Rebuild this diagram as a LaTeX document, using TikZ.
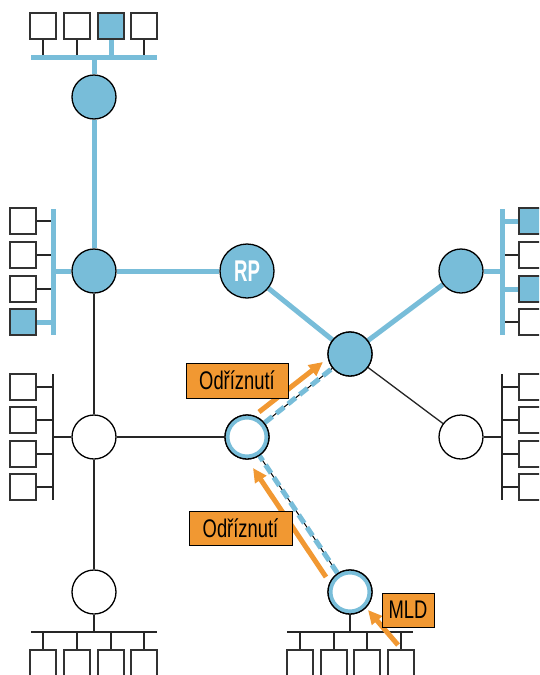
\documentclass[tikz,border=0pt]{standalone}
\usepackage{fontspec}
\newfontfamily\condfont[FakeStretch=0.72]{Liberation Sans}
\newfontfamily\rpfont[FakeStretch=0.62]{Liberation Sans}
\usetikzlibrary{arrows.meta,backgrounds}
\definecolor{nblue}{RGB}{120,189,217}
\definecolor{norange}{RGB}{241,152,50}
\definecolor{boxgray}{RGB}{50,50,50}
\begin{document}
\begin{tikzpicture}[x=1pt,y=-1pt,
 router/.style={circle,draw=black,line width=1.3pt,fill=nblue,minimum size=44pt,inner sep=0pt},
 wrouter/.style={router,fill=white},
 ringrouter/.style={wrouter,path picture={\draw[nblue,line width=4pt] (path picture bounding box.center) circle (19.5pt);}},
 host/.style={rectangle,draw=boxgray,line width=1.5pt,minimum size=26pt,inner sep=0pt,fill=white},
 fhost/.style={host,fill=nblue},
 blink/.style={nblue,line width=5pt},
 tlink/.style={black!85,line width=1.3pt},
 dlink/.style={nblue,line width=5pt,dash pattern=on 10pt off 5pt},
 oarrow/.style={norange,line width=5pt,-{Triangle[length=14pt,width=13pt]}},
 lbl/.style={draw=black,line width=1pt,fill=norange,inner sep=0pt,minimum height=35pt,font=\condfont\fontsize{25.5}{25.5}\selectfont}]
\useasboundingbox (0,0) rectangle (539,675);
\clip (0,0) rectangle (539,675);

% routers
\node[router] (rA) at (94,97) {};
\node[router] (rB) at (94,271) {};
\node[router,minimum size=54pt,text=white,font=\rpfont\bfseries\fontsize{30}{30}\selectfont] (RP) at (247,271) {RP};
\node[router] (rC) at (461,271) {};
\node[router] (rD) at (350,354) {};
\node[wrouter] (rE) at (94,437) {};
\node[ringrouter] (rF) at (247,437) {};
\node[wrouter] (rG) at (461,437) {};
\node[wrouter] (rH) at (94,592) {};
\node[ringrouter] (rI) at (350,592) {};

% hosts top
\node[host] (t1) at (43,26) {};
\node[host] (t2) at (77,26) {};
\node[fhost] (t3) at (111,26) {};
\node[host] (t4) at (144,26) {};
\coordinate (tbL) at (31,57); \coordinate (tbR) at (157,57);
% hosts left upper
\node[host] (l1) at (23,221) {};
\node[host] (l2) at (23,255) {};
\node[host] (l3) at (23,289) {};
\node[fhost] (l4) at (23,322) {};
\coordinate (lbT) at (53,209); \coordinate (lbB) at (53,335);
% hosts right upper
\node[fhost] (r1) at (532,221) {};
\node[host] (r2) at (532,255) {};
\node[fhost] (r3) at (532,289) {};
\node[host] (r4) at (532,322) {};
\coordinate (rbT) at (502,209); \coordinate (rbB) at (502,335);
% hosts left lower
\node[host] (m1) at (23,387) {};
\node[host] (m2) at (23,420) {};
\node[host] (m3) at (23,454) {};
\node[host] (m4) at (23,487) {};
\coordinate (mbT) at (53,374); \coordinate (mbB) at (53,500);
% hosts right lower
\node[host] (n1) at (532,387) {};
\node[host] (n2) at (532,420) {};
\node[host] (n3) at (532,454) {};
\node[host] (n4) at (532,487) {};
\coordinate (nbT) at (502,374); \coordinate (nbB) at (502,500);
% hosts bottom left
\node[host] (b1) at (43,663) {};
\node[host] (b2) at (77,663) {};
\node[host] (b3) at (111,663) {};
\node[host] (b4) at (144,663) {};
\coordinate (bbL) at (31,632); \coordinate (bbR) at (157,632);
% hosts bottom right
\node[host] (c1) at (300,663) {};
\node[host] (c2) at (334,663) {};
\node[host] (c3) at (367,663) {};
\node[host] (c4) at (401,663) {};
\coordinate (cbL) at (287,632); \coordinate (cbR) at (413,632);

\begin{scope}[on background layer]
 % top group
 \foreach \h in {t1,t2,t4} \draw[tlink] (\h.south) -- (\h.south |- tbL);
 \draw[blink] (t3.south) -- (t3.south |- tbL);
 \draw[blink] (tbL) -- (tbR);
 \draw[blink] (rA |- tbL) -- (rA);
 \draw[blink] (rA) -- (rB);
 % left upper
 \foreach \h in {l1,l2,l3} \draw[tlink] (\h.east) -- (\h -| lbT);
 \draw[blink] (l4.east) -- (l4 -| lbT);
 \draw[blink] (lbT) -- (lbB);
 \draw[blink] (rB -| lbT) -- (rB);
 \draw[blink] (rB) -- (RP);
 % right upper
 \foreach \h in {r2,r4} \draw[tlink] (\h.west) -- (\h -| rbT);
 \foreach \h in {r1,r3} \draw[blink] (\h.west) -- (\h -| rbT);
 \draw[blink] (rbT) -- (rbB);
 \draw[blink] (rC -| rbT) -- (rC);
 \draw[blink] (RP) -- (rD);
 \draw[blink] (rD) -- (rC);
 % thin links
 \draw[tlink] (rB) -- (rE);
 \draw[tlink] (rE) -- (rH);
 \draw[tlink] (rE) -- (rF);
 \draw[tlink] (rD) -- (rG);
 % left lower
 \foreach \h in {m1,m2,m3,m4} \draw[tlink] (\h.east) -- (\h -| mbT);
 \draw[tlink] (mbT) -- (mbB);
 \draw[tlink] (rE -| mbT) -- (rE);
 % right lower
 \foreach \h in {n1,n2,n3,n4} \draw[tlink] (\h.west) -- (\h -| nbT);
 \draw[tlink] (nbT) -- (nbB);
 \draw[tlink] (rG -| nbT) -- (rG);
 % bottom left
 \foreach \h in {b1,b2,b3,b4} \draw[tlink] (\h.north) -- (\h |- bbL);
 \draw[tlink] (bbL) -- (bbR);
 \draw[tlink] (rH) -- (rH |- bbL);
 % bottom right
 \foreach \h in {c1,c2,c3,c4} \draw[tlink] (\h.north) -- (\h |- cbL);
 \draw[tlink] (cbL) -- (cbR);
 \draw[tlink] (rI) -- (rI |- cbL);
 % dashed paths (thin black core)
 \draw[black,line width=1pt] (rI) -- (rF);
 \draw[black,line width=1pt] (rF) -- (rD);
\end{scope}
\draw[dlink] (rI) -- (rF);
\draw[dlink] (rF) -- (rD);
\node[ringrouter] at (rF) {};
\node[ringrouter] at (rI) {};
\node[router] at (rD) {};

% orange arrows
\coordinate (a1s) at (326,577); \coordinate (a1e) at (253,468);
\coordinate (a2s) at (259,412); \coordinate (a2e) at (323,362);
\coordinate (a3s) at (398,645); \coordinate (a3e) at (368,610);
\draw[oarrow] (a1s) -- (a1e);
\draw[oarrow] (a2s) -- (a2e);
\draw[oarrow] (a3s) -- (a3e);

% labels
\node[lbl,minimum width=102pt] (L1) at (237,380.5) {Odříznutí};
\node[lbl,minimum width=103pt,minimum height=34pt] (L2) at (240.5,528) {Odříznutí};
\node[lbl,minimum width=52pt,minimum height=34pt] (L3) at (408,610) {MLD};
\end{tikzpicture}
\end{document}
